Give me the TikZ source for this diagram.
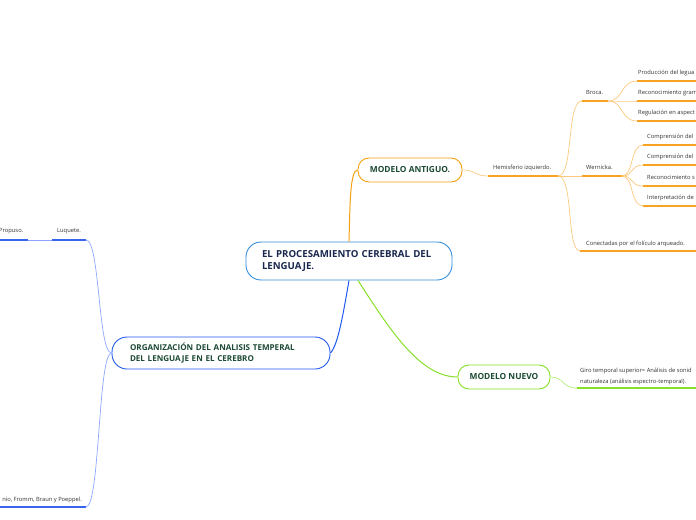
\documentclass[tikz,border=0pt]{standalone}
\usepackage{fontspec}
\setmainfont{Open Sans}
\usepackage{xcolor}
\usetikzlibrary{positioning}
\definecolor{cRoot}{RGB}{52,140,220}
\definecolor{cNavy}{RGB}{26,40,78}
\definecolor{cDark}{RGB}{28,74,52}
\definecolor{cTxt}{RGB}{50,50,50}
\definecolor{cOr}{RGB}{245,160,15}
\definecolor{cOrL}{RGB}{252,200,125}
\definecolor{cOrU}{RGB}{247,164,34}
\definecolor{cGr}{RGB}{134,224,40}
\definecolor{cGrL}{RGB}{180,238,125}
\definecolor{cBl}{RGB}{32,88,240}
\definecolor{cBlL}{RGB}{140,166,255}
\definecolor{cBlU}{RGB}{58,100,240}
\tikzset{
	root/.style={draw=cRoot, line width=0.9pt, rounded corners=15bp, fill=white,
		text=cNavy, font=\fontsize{9.7}{12.5}\selectfont\bfseries, align=left,
		inner ysep=0pt, minimum height=38bp},
	topic/.style={line width=0.9pt, rounded corners=11bp, fill=white, text=cDark,
		font=\fontsize{8.4}{11}\selectfont\bfseries, inner sep=0pt, minimum height=24bp},
	lbl/.style={anchor=base west, inner sep=0pt, text=cTxt,
		font=\fontsize{5.8}{10.8}\selectfont},
	lnk/.style={line width=0.7pt},
	ul/.style={line width=1.7pt},
}
\begin{document}
\begin{tikzpicture}[x=1bp, y=-1bp]
	\useasboundingbox (0,0) rectangle (696,520);
	\clip (0,0) rectangle (696,520);
	\node[root, text width=174bp, inner xsep=16bp] at (349,261) (root) {EL PROCESAMIENTO CEREBRAL DEL\\LENGUAJE.};
	\node[topic, draw=cOr, minimum width=104bp] at (410,170) (ma) {MODELO ANTIGUO.};
	\node[topic, draw=cGr, minimum width=92bp] at (504,377) (mn) {MODELO NUEVO};
	\node[topic, draw=cBl, minimum width=218bp, minimum height=32bp, rounded corners=15bp,
		text width=182bp, inner xsep=18bp, align=left,
		font=\fontsize{8.1}{11.6}\selectfont\bfseries] at (221,353) (org) {ORGANIZACIÓN DEL ANALISIS TEMPERAL\\DEL LENGUAJE EN EL CEREBRO};
	\draw[line width=1pt, cOr] (root.north) .. controls (350,205) and (350,170) .. (ma.west);
	\draw[line width=1pt, cGr] ([xshift=9bp]root.south) .. controls (390,330) and (420,377) .. (mn.west);
	\draw[line width=1pt, cBl] (root.south) .. controls (343,315) and (338,345) .. (org.east);
	\coordinate (hemi-l) at (488,176);
	\coordinate (hemi-r) at (558,176);
	\node[lbl] at (493,170) (hemi) {Hemisferio izquierdo.};
	\draw[lnk, cOrL] (ma.east) .. controls (476,170) and (474,176) .. (hemi-l);
	\draw[ul, cOrU] (hemi-l) -- (hemi-r);
	\coordinate (broca-l) at (582,101);
	\coordinate (broca-r) at (608,101);
	\node[lbl] at (586,95) (broca) {Broca.};
	\draw[lnk, cOrL] (hemi-r) .. controls (574,176) and (566,101) .. (broca-l);
	\draw[ul, cOrU] (broca-l) -- (broca-r);
	\coordinate (wer-l) at (582,176);
	\coordinate (wer-r) at (622,176);
	\node[lbl] at (586,170) (wer) {Wernicka.};
	\draw[lnk, cOrL] (hemi-r) -- (wer-l);
	\draw[ul, cOrU] (wer-l) -- (wer-r);
	\coordinate (con-l) at (580,251);
	\coordinate (con-r) at (696,251);
	\node[lbl] at (586,246) (con) {Conectadas por el folículo arqueado.};
	\draw[lnk, cOrL] (hemi-r) .. controls (574,176) and (566,251) .. (con-l);
	\draw[ul, cOrU] (con-l) -- (con-r);
	\foreach \yy/\txt [count=\i] in {81/Producción del legua,101/Reconocimiento gram,121/Regulación en aspect}{
		\coordinate (b\i-l) at (637,\yy);
		\coordinate (b\i-r) at (696,\yy);
		\node[lbl] at (638,\yy-6) (b\i) {\txt};
		\draw[lnk, cOrL] (broca-r) .. controls (624,101) and (620,\yy) .. (b\i-l);
		\draw[ul, cOrU] (b\i-l) -- (b\i-r);
	}
	\foreach \yy/\txt [count=\i] in {145/Comprensión del,165/Comprensión del,186/Reconocimiento s,206/Interpretación de}{
		\coordinate (w\i-l) at (643,\yy);
		\coordinate (w\i-r) at (696,\yy);
		\node[lbl] at (647,\yy-6) (w\i) {\txt};
		\draw[lnk, cOrL] (wer-r) .. controls (634,176) and (630,\yy) .. (w\i-l);
		\draw[ul, cOrU] (w\i-l) -- (w\i-r);
	}
	\coordinate (giro-l) at (577,388);
	\coordinate (giro-r) at (696,388);
	\node[lbl, align=left] at (580,383) (giro) {Giro temporal superior= Análisis de sonid\\naturaleza (análisis espectro-temporal).};
	\draw[lnk, cGrL] (mn.east) .. controls (564,377) and (562,388) .. (giro-l);
	\draw[ul, cGr] (giro-l) -- (giro-r);
	\coordinate (pro-l) at (-2,240);
	\coordinate (pro-r) at (28,240);
	\coordinate (luq-l) at (52,240);
	\coordinate (luq-r) at (86,240);
	\node[lbl] at (-1,233) (pro) {Propuso.};
	\node[lbl] at (57,233) (luq) {Luquete.};
	\draw[lnk, cBlL] (pro-r) -- (luq-l);
	\draw[ul, cBlU] (pro-l) -- (pro-r);
	\draw[ul, cBlU] (luq-l) -- (luq-r);
	\coordinate (fr-l) at (-2,507);
	\coordinate (fr-r) at (86,507);
	\node[lbl, anchor=base east] at (82,501) (fr) {nio, Fromm, Braun y Poeppel.};
	\draw[ul, cBlU] (fr-l) -- (fr-r);
	\draw[lnk, cBlL] (org.west) .. controls (98,353) and (100,240) .. (luq-r);
	\draw[lnk, cBlL] (org.west) .. controls (98,353) and (100,507) .. (fr-r);
\end{tikzpicture}
\end{document}
